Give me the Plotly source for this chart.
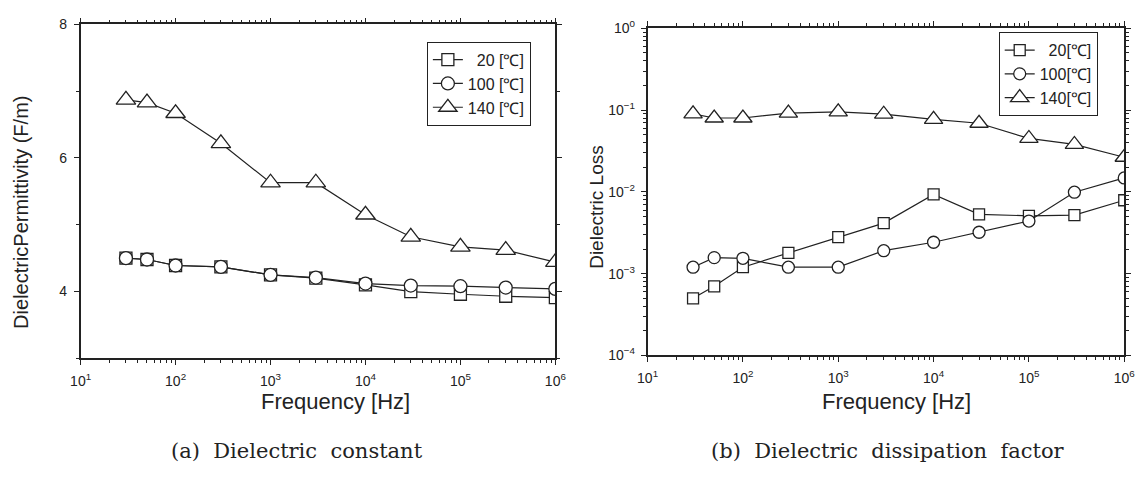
import plotly.graph_objects as go

# ---------------- data ----------------
freq = [30, 50, 100, 300, 1e3, 3e3, 1e4, 3e4, 1e5, 3e5, 1e6]

perm_20 = [4.50, 4.48, 4.39, 4.37, 4.25, 4.20, 4.10, 4.00, 3.96, 3.93, 3.91]
perm_100 = [4.50, 4.48, 4.39, 4.37, 4.25, 4.21, 4.12, 4.09, 4.08, 4.06, 4.04]
perm_140 = [6.87, 6.83, 6.67, 6.22, 5.63, 5.63, 5.15, 4.82, 4.67, 4.62, 4.44]

loss_20 = [0.00050, 0.00070, 0.00120, 0.00180, 0.00280, 0.00415, 0.0093, 0.0053, 0.0051, 0.0052, 0.0079]
loss_100 = [0.00120, 0.00157, 0.00154, 0.00120, 0.00120, 0.00191, 0.00242, 0.00321, 0.00440, 0.0099, 0.0148]
loss_140 = [0.090, 0.080, 0.080, 0.092, 0.095, 0.089, 0.077, 0.069, 0.045, 0.038, 0.0265]

labels_a = ["\u00a0\u00a020 [\u2103]", "100 [\u2103]", "140 [\u2103]"]
labels_b = ["\u00a0\u00a020[\u2103]", "100[\u2103]", "140[\u2103]"]

x_decades = [1, 2, 3, 4, 5, 6]
y_decades = [-4, -3, -2, -1, 0]
perm_ticks = [4, 6, 8]

x_title = "Frequency [Hz]"
y_title_a = "DielectricPermittivity (F/m)"
y_title_b = "Dielectric Loss"
captions = ["(a)\u00a0\u00a0Dielectric\u00a0\u00a0constant",
            "(b)\u00a0\u00a0Dielectric\u00a0\u00a0dissipation\u00a0\u00a0factor"]

# ---------------- figure ----------------
FONT = "Liberation Sans, Arial, sans-serif"
SERIF = "DejaVu Serif, Liberation Serif, serif"
INK = "#222"
symbols = ["square", "circle", "triangle-up"]
sizes = [12, 13, 17]

fig = go.Figure()

for ys, lab, sym, sz in zip([perm_20, perm_100, perm_140], labels_a, symbols, sizes):
    fig.add_trace(go.Scatter(
        x=freq, y=ys, name=lab, mode="lines+markers",
        line=dict(color=INK, width=1.2),
        marker=dict(symbol=sym, size=sz, color="white", line=dict(color=INK, width=1.3)),
        xaxis="x", yaxis="y", legend="legend"))

for ys, lab, sym, sz in zip([loss_20, loss_100, loss_140], labels_b, symbols, sizes):
    fig.add_trace(go.Scatter(
        x=freq, y=ys, name=lab, mode="lines+markers",
        line=dict(color=INK, width=1.2),
        marker=dict(symbol=sym, size=sz - 1, color="white", line=dict(color=INK, width=1.3)),
        xaxis="x2", yaxis="y2", legend="legend2"))

xtv = [10 ** d for d in x_decades]
xtt = ["10<sup>%d</sup>" % d for d in x_decades]
ytv = [10 ** d for d in y_decades]
ytt = ["10<sup>%s</sup>" % (("\u2212%d" % -d) if d < 0 else str(d)) for d in y_decades]

tickfont = dict(family=FONT, size=14, color=INK)
common = dict(showline=True, linecolor=INK, linewidth=1.6, showgrid=False, zeroline=False,
              tickcolor=INK, tickwidth=1.2, tickfont=tickfont, mirror="ticks")

xa_dom = [71 / 1148, 555 / 1148]
ya_dom = [1 - 362 / 477, 1 - 15 / 477]
xb_dom = [649 / 1148, 1135 / 1148]
yb_dom = [1 - 359 / 477, 1 - 19 / 477]

xlog = dict(type="log", range=[1, 6], tickmode="array", tickvals=xtv, ticktext=xtt)
logminor = dict(ticks="outside", ticklen=3, dtick="D1", tickcolor=INK)

leg = dict(xanchor="left", yanchor="top", bordercolor=INK, borderwidth=1, bgcolor="white",
           font=dict(family=FONT, size=16, color=INK), tracegroupgap=0, itemwidth=30)

fig.update_layout(
    width=1148, height=477, margin=dict(l=0, r=0, t=0, b=0),
    paper_bgcolor="white", plot_bgcolor="white", showlegend=True,
    font=dict(family=FONT, color=INK),
    xaxis=dict(domain=xa_dom, anchor="y", ticks="outside", ticklen=5, minor=logminor,
               ticklabelstandoff=4, **xlog, **common),
    yaxis=dict(domain=ya_dom, anchor="x", range=[3, 8], tickmode="array", tickvals=perm_ticks,
               ticks="outside", ticklen=5, ticklabelstandoff=4,
               minor=dict(ticks="outside", ticklen=3, dtick=1, tick0=3, tickcolor=INK),
               **common),
    xaxis2=dict(domain=xb_dom, anchor="y2", ticks="outside", ticklen=5, minor=logminor,
                ticklabelstandoff=4, **xlog, **common),
    yaxis2=dict(domain=yb_dom, anchor="x2", type="log", range=[-4, 0], tickmode="array", tickvals=ytv, ticktext=ytt,
                ticks="outside", ticklen=5, minor=logminor, ticklabelstandoff=3,
                **common),
    legend=dict(x=424 / 1148, y=1 - 33 / 477, **leg),
    legend2=dict(x=1007 / 1148, y=1 - 23 / 477, **leg),
)

# axis titles
for xc in [331, 903]:
    fig.add_annotation(text=x_title, xref="paper", yref="paper", x=xc / 1148, y=1 - 407 / 477,
                       xanchor="center", yanchor="middle", showarrow=False,
                       font=dict(family=FONT, size=22, color=INK))
fig.add_annotation(text=y_title_a, xref="paper", yref="paper", x=10 / 1148, y=1 - 210 / 477,
                   xanchor="center", yanchor="middle", showarrow=False, textangle=-90,
                   font=dict(family=FONT, size=20, color=INK))
fig.add_annotation(text=y_title_b, xref="paper", yref="paper", x=597 / 1148, y=1 - 205 / 477,
                   xanchor="center", yanchor="middle", showarrow=False, textangle=-90,
                   font=dict(family=FONT, size=19, color=INK))

for txt, xc in zip(captions, [292 / 1148, 894 / 1148]):
    fig.add_annotation(text=txt, xref="paper", yref="paper", x=xc, y=1 - 458 / 477,
                       xanchor="center", yanchor="middle", showarrow=False,
                       font=dict(family=SERIF, size=21, color=INK))

fig.write_html("out.html")
